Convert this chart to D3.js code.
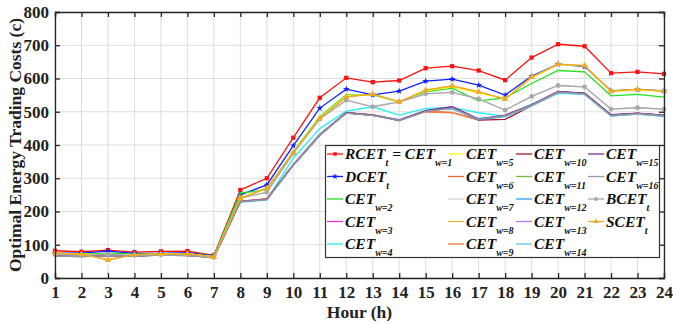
<!DOCTYPE html>
<html>
<head>
<meta charset="utf-8">
<script src="https://cdn.jsdelivr.net/npm/d3@7"></script>
<style>
body { margin: 0; background: #fff; }
svg { display: block; font-family: "Liberation Serif", "Times New Roman", serif; }
</style>
</head>
<body>
<svg id="chart" width="673" height="324"></svg>
<script>
// hours on the x axis
const hours = d3.range(1, 25)
const yTicks = d3.range(0, 801, 100)

// series values
const rcet = [82, 79, 84, 78, 80, 81, 68, 265, 300, 422, 542, 602, 589, 594, 631, 637, 624, 595, 663, 703, 697, 616, 620, 614]
const dcet = [75, 75, 81, 74, 74, 76, 67, 250, 280, 398, 511, 568, 551, 562, 592, 598, 580, 550, 607, 643, 636, 563, 567, 563]
const cetW2 = [72, 72, 75, 72, 73, 73, 66, 255, 266, 380, 485, 551, 551, 530, 560, 571, 533, 542, 585, 624, 620, 548, 552, 544]
const cetW3 = [67, 65, 68, 66, 70, 68, 62, 230, 237, 340, 430, 497, 490, 473, 502, 512, 478, 488, 520, 560, 555, 490, 495, 489]
const cetW4 = [68, 66, 70, 67, 70, 69, 63, 228, 235, 361, 450, 502, 515, 490, 510, 513, 497, 487, 523, 555, 553, 488, 494, 486]
const cetW5 = [75, 72, 70, 70, 72, 73, 64, 242, 268, 378, 482, 548, 552, 530, 563, 575, 556, 540, 602, 642, 638, 560, 566, 561]
const cetW6 = [66, 64, 67, 66, 69, 67, 62, 231, 238, 340, 432, 497, 490, 475, 500, 497, 475, 488, 520, 560, 555, 490, 495, 489]
const cetW7 = [70, 68, 72, 68, 70, 70, 62, 240, 258, 375, 478, 535, 515, 530, 554, 558, 539, 505, 546, 579, 575, 508, 512, 508]
const cetW8 = [75, 72, 56, 70, 72, 73, 63, 240, 270, 377, 480, 545, 553, 530, 565, 578, 560, 538, 604, 643, 639, 562, 567, 562]
const cetW9 = [66, 64, 67, 66, 69, 67, 62, 231, 238, 341, 432, 497, 491, 475, 501, 498, 476, 488, 520, 560, 555, 490, 495, 489]
const cetW10 = [67, 65, 68, 66, 70, 68, 62, 230, 237, 340, 430, 497, 490, 475, 502, 512, 475, 477, 518, 559, 555, 490, 495, 489]
const cetW11 = [67, 65, 68, 66, 70, 68, 62, 230, 237, 340, 430, 497, 490, 475, 502, 512, 478, 488, 520, 560, 555, 490, 495, 489]
const cetW12 = [66, 65, 68, 66, 70, 68, 62, 229, 236, 339, 429, 496, 489, 474, 502, 510, 476, 485, 518, 558, 553, 488, 493, 487]
const cetW13 = [67, 65, 68, 66, 70, 68, 62, 230, 237, 340, 431, 497, 490, 475, 503, 515, 478, 490, 520, 560, 555, 490, 495, 489]
const cetW14 = [67, 65, 68, 66, 70, 68, 62, 229, 236, 342, 433, 496, 489, 476, 504, 508, 480, 487, 517, 556, 553, 487, 493, 486]
const cetW15 = [67, 65, 68, 66, 70, 68, 62, 230, 237, 340, 430, 497, 490, 475, 503, 515, 478, 490, 521, 561, 556, 491, 496, 490]
const cetW16 = [66, 64, 67, 66, 69, 67, 61, 230, 236, 339, 430, 496, 489, 474, 501, 511, 477, 488, 519, 559, 554, 489, 494, 488]
const bcet = [70, 68, 72, 68, 70, 70, 62, 240, 258, 375, 478, 535, 515, 530, 554, 558, 539, 505, 546, 579, 575, 508, 512, 508]
const scet = [75, 72, 54, 70, 72, 73, 63, 240, 270, 377, 480, 545, 553, 530, 565, 578, 560, 538, 604, 643, 639, 562, 567, 562]

const series = [
	{main: "RCET", sub: "t", extra: "w=1", values: rcet, color: "#ff1010", marker: d3.symbolSquare},
	{main: "DCET", sub: "t", values: dcet, color: "#1020ff", marker: d3.symbolStar},
	{main: "CET", sub: "w=2", values: cetW2, color: "#22e022"},
	{main: "CET", sub: "w=3", values: cetW3, color: "#ff30e0"},
	{main: "CET", sub: "w=4", values: cetW4, color: "#20f0f0"},
	{main: "CET", sub: "w=5", values: cetW5, color: "#ffff20"},
	{main: "CET", sub: "w=6", values: cetW6, color: "#f26a30"},
	{main: "CET", sub: "w=7", values: cetW7, color: "#d6d6d6"},
	{main: "CET", sub: "w=8", values: cetW8, color: "#f0b440"},
	{main: "CET", sub: "w=9", values: cetW9, color: "#f47a48"},
	{main: "CET", sub: "w=10", values: cetW10, color: "#a8182e"},
	{main: "CET", sub: "w=11", values: cetW11, color: "#7ab43a"},
	{main: "CET", sub: "w=12", values: cetW12, color: "#2e9cf0"},
	{main: "CET", sub: "w=13", values: cetW13, color: "#c070f0"},
	{main: "CET", sub: "w=14", values: cetW14, color: "#5cc4f0"},
	{main: "CET", sub: "w=15", values: cetW15, color: "#7e3090"},
	{main: "CET", sub: "w=16", values: cetW16, color: "#9a9a9a"},
	{main: "BCET", sub: "t", values: bcet, color: "#a8a8a8", marker: d3.symbolCircle},
	{main: "SCET", sub: "t", values: scet, color: "#eeaa20", marker: d3.symbolTriangle},
]

const svg = d3.select("#chart")
const margin = {top: 12, right: 9, bottom: 46, left: 55}
const width = 673, height = 324
const x = d3.scaleLinear().domain([1, 24]).range([margin.left, width - margin.right])
const y = d3.scaleLinear().domain([0, 800]).range([height - margin.bottom, margin.top])

// grid
const grid = svg.append("g").attr("stroke", "#dedede").attr("stroke-width", 1)
grid.selectAll("line.v").data(hours).join("line")
	.attr("x1", d => x(d)).attr("x2", d => x(d))
	.attr("y1", y(0)).attr("y2", y(800))
grid.selectAll("line.h").data(yTicks).join("line")
	.attr("x1", x(1)).attr("x2", x(24))
	.attr("y1", d => y(d)).attr("y2", d => y(d))

// lines
const line = d3.line().x((d, i) => x(hours[i])).y(d => y(d))
const plot = svg.append("g")
series.forEach(s => {
	plot.append("path")
		.datum(s.values)
		.attr("fill", "none")
		.attr("stroke", s.color)
		.attr("stroke-width", 1.3)
		.attr("d", line)
	if (s.marker) {
		plot.selectAll(null).data(s.values).join("path")
			.attr("transform", (d, i) => "translate(" + x(hours[i]) + "," + y(d) + ")")
			.attr("d", d3.symbol(s.marker, s.marker === d3.symbolStar ? 14 : 18))
			.attr("fill", s.color)
	}
})

// axes
const axisColor = "#262626"
const fontSize = 17
const axisBottom = svg.append("g")
	.attr("transform", "translate(0," + y(0) + ")")
	.call(d3.axisBottom(x).tickValues(hours).tickFormat(d3.format("d")).tickSize(-5).tickPadding(8))
const axisLeft = svg.append("g")
	.attr("transform", "translate(" + x(1) + ",0)")
	.call(d3.axisLeft(y).tickValues(yTicks).tickSize(-5).tickPadding(6))
const axisTop = svg.append("g")
	.attr("transform", "translate(0," + y(800) + ")")
	.call(d3.axisTop(x).tickValues(hours).tickFormat("").tickSize(-5))
const axisRight = svg.append("g")
	.attr("transform", "translate(" + x(24) + ",0)")
	.call(d3.axisRight(y).tickValues(yTicks).tickFormat("").tickSize(-5))
;[axisBottom, axisLeft, axisTop, axisRight].forEach(a => {
	a.select(".domain").attr("stroke", axisColor).attr("stroke-width", 1.3)
	a.selectAll(".tick line").attr("stroke", axisColor).attr("stroke-width", 1.3)
	a.selectAll(".tick text")
		.attr("fill", "#222")
		.attr("font-family", "Liberation Serif")
		.attr("font-weight", "bold")
		.attr("font-size", fontSize)
})

// axis titles
svg.append("text")
	.attr("x", (x(1) + x(24)) / 2).attr("y", 318)
	.attr("text-anchor", "middle")
	.attr("font-weight", "bold").attr("font-size", 17.5).attr("fill", "#222")
	.text("Hour (h)")
svg.append("text")
	.attr("transform", "translate(21," + (y(0) + y(800)) / 2 + ") rotate(-90)")
	.attr("text-anchor", "middle")
	.attr("font-weight", "bold").attr("font-size", 17.5).attr("fill", "#222")
	.text("Optimal Energy Trading Costs (c)")

// legend
const legend = svg.append("g")
legend.append("rect")
	.attr("x", 325.5).attr("y", 145.5).attr("width", 334).attr("height", 112)
	.attr("fill", "#fff").attr("stroke", "#333").attr("stroke-width", 1.2)
const colX = [327, 448, 516, 588]
const rowY = d3.range(5).map(i => 154 + i * 22.5)
series.forEach((s, i) => {
	const col = i < 5 ? 0 : Math.min(3, Math.floor((i - 5) / 5) + 1)
	const row = i < 5 ? i : (i - 5) % 5
	const lx = colX[col], ly = rowY[row]
	const g = legend.append("g").attr("transform", "translate(" + lx + "," + ly + ")")
	g.append("line").attr("x1", 0).attr("x2", 16).attr("y1", 0).attr("y2", 0)
		.attr("stroke", s.color).attr("stroke-width", 1.3)
	if (s.marker)
		g.append("path").attr("transform", "translate(8,0)")
			.attr("d", d3.symbol(s.marker, 12))
			.attr("fill", s.color)
	const t = g.append("text").attr("x", 18).attr("y", 5)
		.attr("font-weight", "bold").attr("font-style", "italic")
		.attr("font-size", 15.5).attr("fill", "#111")
	t.append("tspan").text(s.main)
	t.append("tspan").attr("dy", 7).attr("font-size", 10).text(s.sub)
	if (s.extra) {
		t.append("tspan").attr("dy", -7).text(" = CET")
		t.append("tspan").attr("dy", 7).attr("font-size", 10).text(s.extra)
	}
})
</script>
</body>
</html>
